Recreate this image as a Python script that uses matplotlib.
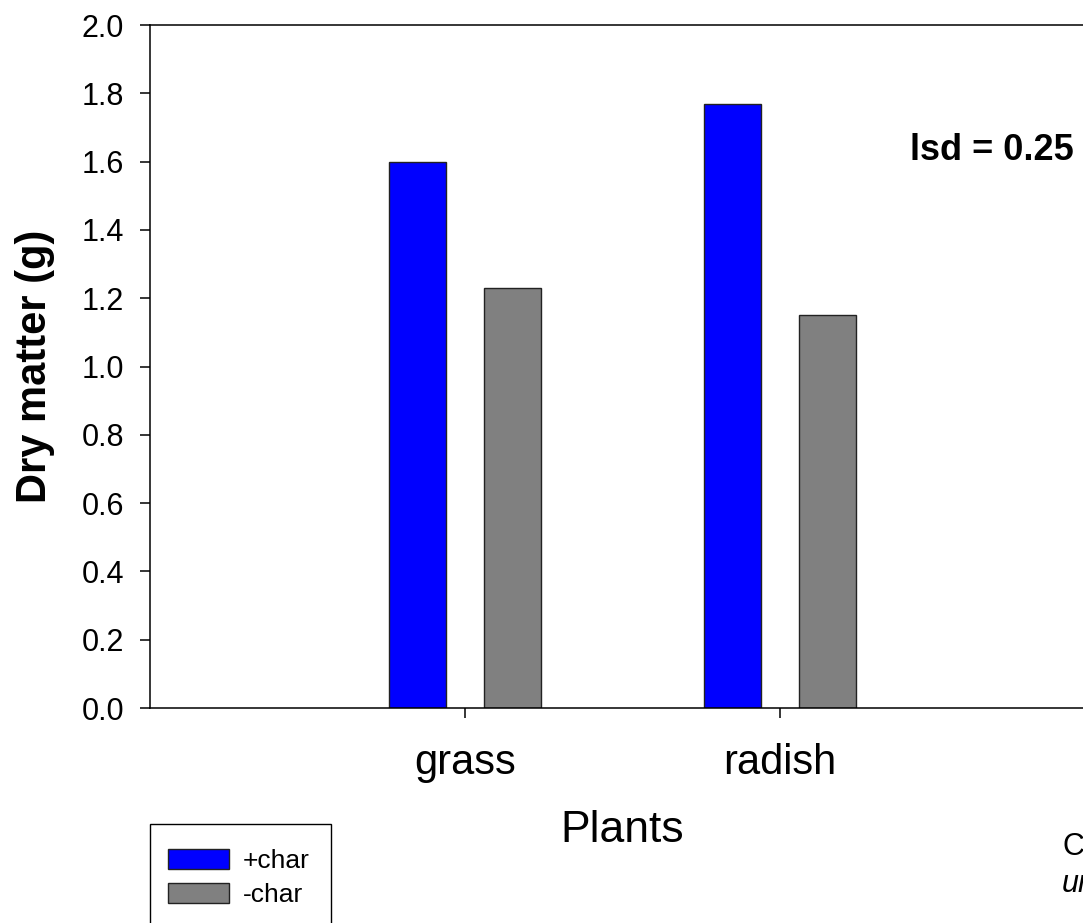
import matplotlib
matplotlib.use("Agg")
import matplotlib.pyplot as plt
from matplotlib.patches import Rectangle
import numpy as np

plt.rcParams['font.family'] = ['Liberation Sans', 'DejaVu Sans']

categories = ["grass", "radish"]
plus_char = [1.60, 1.77]
minus_char = [1.23, 1.15]
series_labels = ["+char", "-char"]
yticks = [0.0, 0.2, 0.4, 0.6, 0.8, 1.0, 1.2, 1.4, 1.6, 1.8, 2.0]

W, H = 1083, 923
fig = plt.figure(figsize=(W / 100, H / 100), dpi=100)

def px(x0, y0, x1, y1):
    return [x0 / W, 1 - y1 / H, (x1 - x0) / W, (y1 - y0) / H]

ax = fig.add_axes(px(150, 25, 1095, 708))

pos = np.arange(1, len(categories) + 1)
bw = 0.181
off = 0.151
b1 = ax.bar(pos - off, plus_char, bw, color="#0000FF", edgecolor="#222222", linewidth=1.0, label=series_labels[0])
b2 = ax.bar(pos + off, minus_char, bw, color="#808080", edgecolor="#222222", linewidth=1.0, label=series_labels[1])

ax.set_xlim(0, 3)
ax.set_ylim(0, 2.0)
ax.set_yticks(yticks)
ax.set_yticklabels([f"{v:.1f}" for v in yticks])
ax.set_xticks(pos)
ax.set_xticklabels(categories)

for s in ax.spines.values():
    s.set_linewidth(1.1)
ax.tick_params(axis='y', direction='out', length=7, width=1.1, pad=11.5, labelsize=22)
ax.tick_params(axis='x', direction='out', length=7, width=1.1, pad=18, labelsize=30)

ax.set_ylabel("Dry matter (g)", fontsize=30, fontweight='bold', labelpad=19)

fig.text(910 / W, 1 - 150 / H, "lsd = 0.25", fontsize=26,
         fontweight='bold', ha='left', va='center')

fig.text(622 / W, 1 - 830 / H, "Plants", fontsize=32, ha='center', va='center')

fig.text(1062 / W, 1 - 855 / H, "C", fontsize=22, ha='left', va='baseline')
fig.text(1062 / W, 1 - 892 / H, "un", fontsize=22, style='italic', ha='left', va='baseline')

# legend box (extends past the bottom edge, as in the reference)
fig.patches.append(Rectangle((150 / W, 1 - 940 / H), 181 / W, 116 / H,
                             transform=fig.transFigure, facecolor='white',
                             edgecolor='black', linewidth=1.0, zorder=1))
leg = fig.legend(handles=[b1, b2], labels=series_labels, loc='upper left',
                 bbox_to_anchor=(168 / W, 1 - 849 / H), fontsize=19, frameon=False,
                 handlelength=2.33, handleheight=0.76,
                 borderpad=0, labelspacing=0.38, handletextpad=0.5, borderaxespad=0)
leg.set_zorder(2)

fig.savefig("out.png", dpi=100)
